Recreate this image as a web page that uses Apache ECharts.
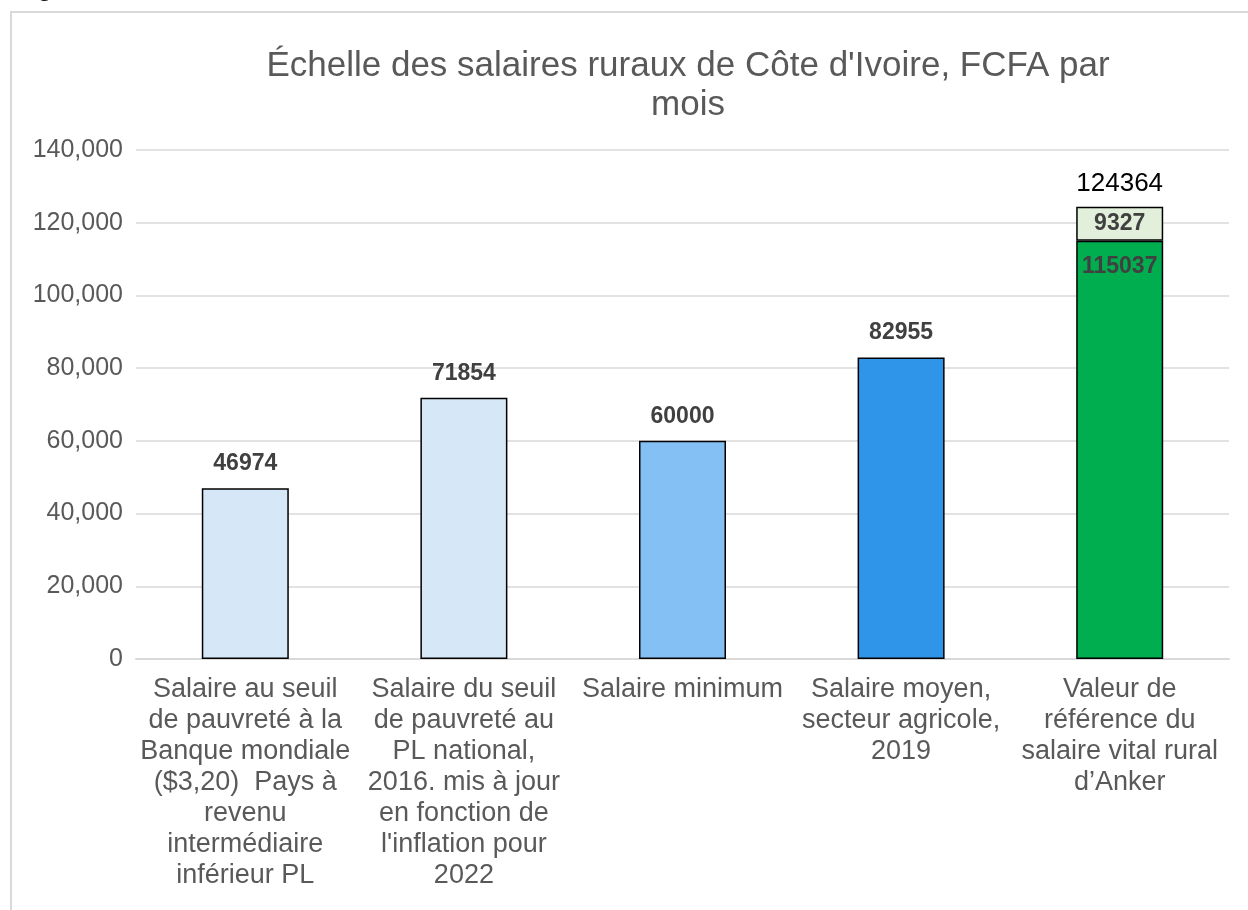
<!DOCTYPE html>
<html>
<head>
<meta charset="utf-8">
<script src="https://cdn.jsdelivr.net/npm/echarts@6/dist/echarts.min.js"></script>
<style>
  html, body { margin: 0; padding: 0; background: #fff; }
  #chart { width: 1248px; height: 910px; }
</style>
</head>
<body>
<div id="chart"></div>
<script>
const categories = [
  "Salaire au seuil\nde pauvreté à la\nBanque mondiale\n($3,20)  Pays à\nrevenu\nintermédiaire\ninférieur PL",
  "Salaire du seuil\nde pauvreté au\nPL national,\n2016. mis à jour\nen fonction de\nl'inflation pour\n2022",
  "Salaire minimum",
  "Salaire moyen,\nsecteur agricole,\n2019",
  "Valeur de\nréférence du\nsalaire vital rural\nd’Anker"
];
const baseValues = [46974, 71854, 60000, 82955, 115037];
const topValues = [null, null, null, null, 9327];
const totals = [null, null, null, null, 124364];
const barColors = ["#d6e8f8", "#d6e8f8", "#85c0f4", "#2e95e8", "#00ad4f"];
const yTicks = [0, 20000, 40000, 60000, 80000, 100000, 120000, 140000];

const chart = echarts.init(document.getElementById("chart"));
const font = "Liberation Sans, Arial, sans-serif";

const option = {
  backgroundColor: "#fff",
  animation: false,
  textStyle: { fontFamily: font },
  title: {
    text: "Échelle des salaires ruraux de Côte d'Ivoire, FCFA par\nmois",
    left: 683,
    top: 42,
    textAlign: "center",
    textStyle: {
      fontFamily: font,
      fontSize: 35,
      fontWeight: "normal",
      color: "#595959",
      lineHeight: 39,
    },
  },
  graphic: [
    {
      type: "rect",
      shape: { x: 11, y: 12, width: 1260, height: 920 },
      style: { fill: "none", stroke: "#d9d9d9", lineWidth: 2 },
      silent: true,
    },
    {
      type: "text",
      left: 37,
      top: -24,
      style: { text: "g", font: "bold 26px " + font, fill: "#000" },
    },
  ],
  grid: { left: 136, right: 19, top: 150, bottom: 251 },
  xAxis: {
    type: "category",
    data: categories,
    axisLine: { lineStyle: { color: "#d9d9d9", width: 2 } },
    axisTick: { show: false },
    axisLabel: {
      interval: 0,
      color: "#595959",
      fontSize: 27,
      lineHeight: 31,
      margin: 15,
      fontFamily: font,
    },
  },
  yAxis: {
    type: "value",
    min: yTicks[0],
    max: yTicks[yTicks.length - 1],
    interval: 20000,
    axisLine: { show: false },
    axisTick: { show: false },
    splitLine: { lineStyle: { color: "#d9d9d9", width: 1.5 } },
    axisLabel: {
      color: "#595959",
      fontSize: 25,
      margin: 13,
      fontFamily: font,
      formatter: (v) => v.toLocaleString("en-US"),
    },
  },
  series: [
    {
      name: "base",
      type: "bar",
      stack: "total",
      barWidth: 87,
      data: baseValues.map((v, i) => ({
        value: v,
        itemStyle: { color: barColors[i] },
        label: i === 4 ? { position: "insideTop", distance: 14 } : {},
      })),
      itemStyle: { borderColor: "#000", borderWidth: 1.5 },
      label: {
        show: true,
        position: "top",
        distance: 13,
        fontSize: 23,
        fontWeight: "bold",
        color: "#404040",
        fontFamily: font,
      },
    },
    {
      name: "top",
      type: "bar",
      stack: "total",
      barWidth: 87,
      data: topValues,
      itemStyle: { color: "#e2efda", borderColor: "#000", borderWidth: 1.5 },
      label: {
        show: true,
        position: "insideTop",
        distance: 5,
        fontSize: 23,
        fontWeight: "bold",
        color: "#404040",
        fontFamily: font,
        formatter: (p) => (p.value == null ? "" : p.value),
      },
    },
    {
      name: "total",
      type: "bar",
      stack: "total",
      barWidth: 87,
      data: totals.map((t) => (t == null ? null : 0)),
      itemStyle: { color: "transparent", borderWidth: 0 },
      label: {
        show: true,
        position: "top",
        distance: 10,
        fontSize: 26,
        color: "#000",
        fontFamily: font,
        formatter: (p) => (totals[p.dataIndex] == null ? "" : String(totals[p.dataIndex])),
      },
    },
  ],
};

chart.setOption(option);
</script>
</body>
</html>
